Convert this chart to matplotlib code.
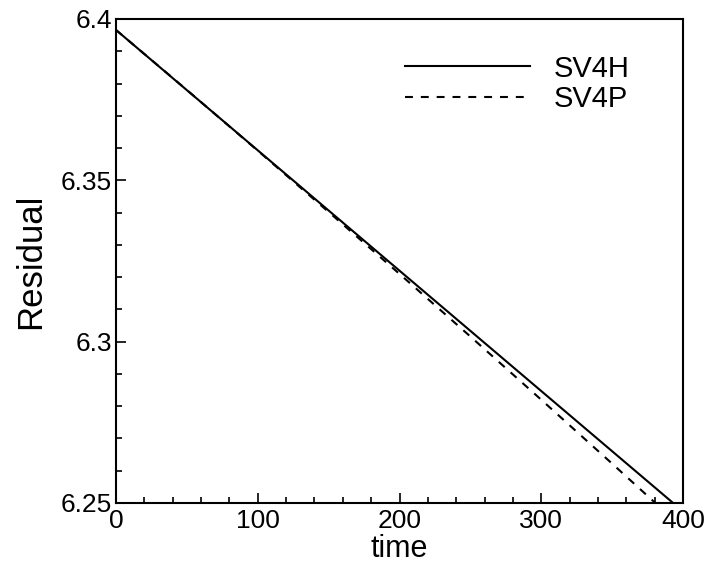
import matplotlib
matplotlib.use("Agg")
import matplotlib.pyplot as plt
from matplotlib.ticker import MultipleLocator

plt.rcParams['font.family'] = ['Liberation Sans', 'DejaVu Sans']

t_h = [0, 100, 200, 300, 400]
sv4h = [6.3966, 6.3593, 6.3220, 6.2847, 6.2474]
t_p = [0, 50, 100, 150, 200, 250, 300, 350, 400]
sv4p = [6.3966, 6.3780, 6.3592, 6.3402, 6.3210, 6.3016, 6.2820, 6.2622, 6.2422]
x_ticks = [0, 100, 200, 300, 400]
x_labels = ['0', '100', '200', '300', '400']
y_ticks = [6.25, 6.3, 6.35, 6.4]
y_labels = ['6.25', '6.3', '6.35', '6.4']

fig = plt.figure(figsize=(7.13, 5.67), dpi=100)
ax = fig.add_axes([116 / 713, 1 - 503 / 567, 567 / 713, 484 / 567])
ax.plot(t_h, sv4h, color='black', lw=1.5, ls='-', label='SV4H')
ax.plot(t_p, sv4p, color='black', lw=1.5, ls=(0, (3.8, 3.8)), label='SV4P')
ax.set_xlim(0, 400)
ax.set_ylim(6.25, 6.4)
ax.xaxis.set_minor_locator(MultipleLocator(20))
ax.yaxis.set_minor_locator(MultipleLocator(0.01))
ax.set_xticks(x_ticks)
ax.set_xticklabels(x_labels)
ax.set_yticks(y_ticks)
ax.set_yticklabels(y_labels)
ax.tick_params(which='both', direction='in', width=1.2, labelsize=19)
ax.tick_params(which='major', length=7.5)
ax.tick_params(which='minor', length=4.3)
ax.tick_params(axis='x', pad=4)
ax.tick_params(axis='y', pad=3)
for s in ax.spines.values():
    s.set_linewidth(1.5)
ax.set_xlabel('time', fontsize=22, labelpad=1)
ax.set_ylabel('Residual', fontsize=25, labelpad=10)
leg = ax.legend(loc='center left', bbox_to_anchor=(405 / 713, 1 - 84 / 567),
                bbox_transform=fig.transFigure, frameon=False,
                fontsize=21, handlelength=4.3, handletextpad=0.8, labelspacing=0.1,
                borderpad=0, borderaxespad=0)
fig.savefig('out.png', dpi=100)
